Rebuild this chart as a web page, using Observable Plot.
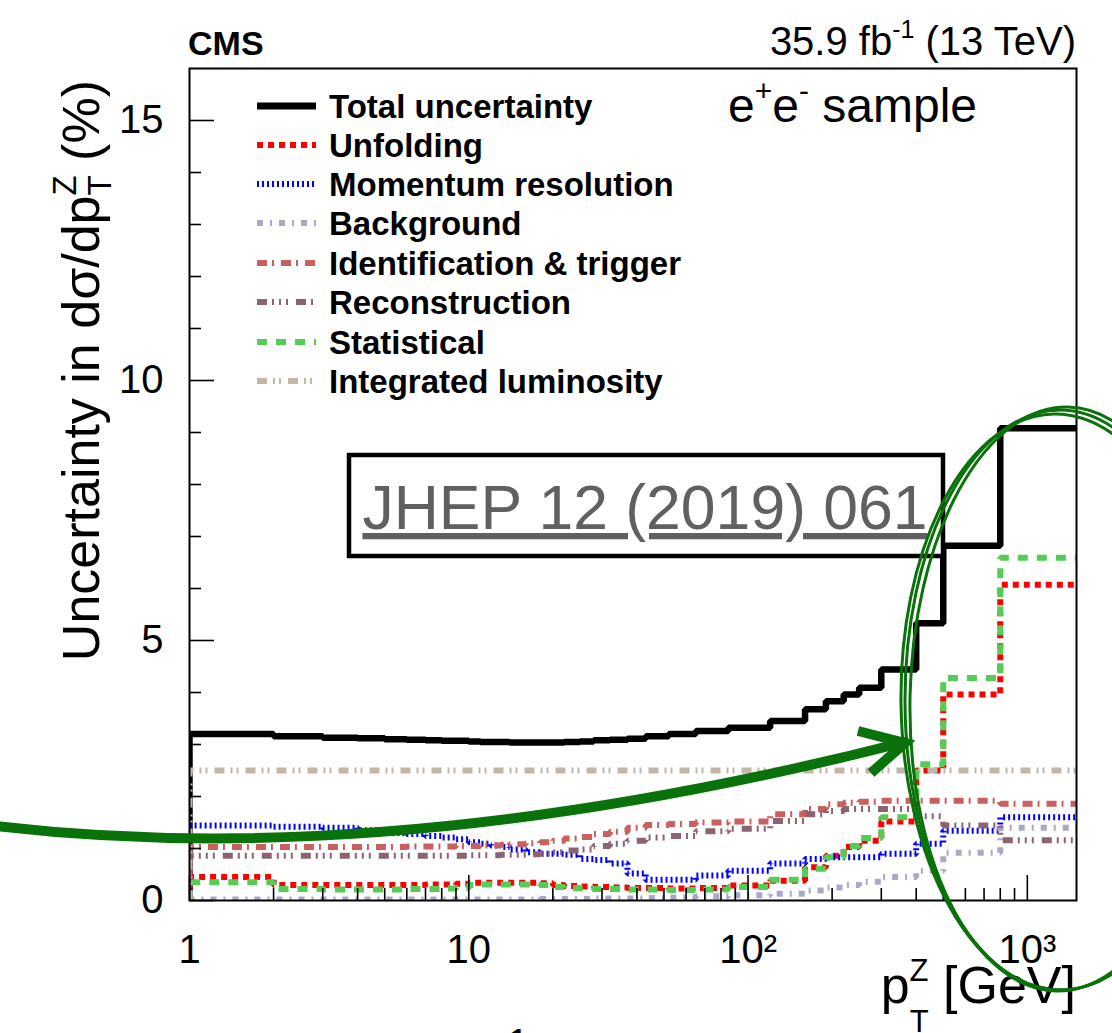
<!DOCTYPE html>
<html><head><meta charset="utf-8">
<script src="https://cdn.jsdelivr.net/npm/d3@7"></script>
<script src="https://cdn.jsdelivr.net/npm/@observablehq/plot@0.6"></script>
<style>
body{margin:0;background:#fff;}
#chart{position:relative;width:1112px;height:1033px;overflow:hidden;}
svg text{font-family:"Liberation Sans",Arial,Helvetica,sans-serif;}
</style></head><body><div id="chart"></div>
<script>
// ---- data (bin edges in GeV, values in %) ----
const edges = [1,2,3,4,5,6,7,8,9,10,11,12,13,14,16,18,20,22,25,28,32,37,43,52,65,85,120,160,190,220,250,300,400,500,800,1500];
const totalUnc = [3.20,3.16,3.13,3.12,3.10,3.09,3.08,3.07,3.07,3.06,3.05,3.05,3.05,3.04,3.04,3.04,3.04,3.05,3.06,3.08,3.09,3.11,3.16,3.20,3.26,3.32,3.45,3.68,3.83,3.96,4.09,4.44,5.33,6.82,9.08];
const unfolding = [0.45,0.30,0.30,0.30,0.30,0.30,0.31,0.31,0.32,0.34,0.34,0.34,0.34,0.34,0.34,0.33,0.30,0.28,0.27,0.26,0.25,0.24,0.24,0.23,0.24,0.29,0.38,0.64,0.86,1.03,1.15,1.52,2.50,3.96,6.07];
const momentumRes = [1.44,1.42,1.40,1.35,1.30,1.28,1.24,1.21,1.18,1.12,1.09,1.06,1.03,0.98,0.93,0.90,0.90,0.88,0.80,0.78,0.71,0.52,0.40,0.40,0.48,0.57,0.71,0.80,0.83,0.83,0.83,0.90,1.09,1.34,1.60];
const background = [0.02,0.02,0.02,0.02,0.02,0.02,0.02,0.02,0.02,0.02,0.02,0.02,0.02,0.02,0.02,0.03,0.03,0.03,0.03,0.04,0.04,0.04,0.05,0.06,0.08,0.10,0.13,0.19,0.25,0.30,0.36,0.45,0.57,0.92,1.40];
const idTrigger = [1.03,1.03,1.03,1.03,1.03,1.04,1.04,1.04,1.05,1.05,1.06,1.06,1.07,1.08,1.10,1.12,1.15,1.19,1.22,1.28,1.32,1.40,1.45,1.47,1.50,1.52,1.66,1.76,1.85,1.88,1.90,1.92,1.92,1.92,1.86];
const reconstruction = [0.86,0.86,0.86,0.86,0.86,0.86,0.86,0.86,0.86,0.87,0.87,0.87,0.88,0.88,0.89,0.90,0.93,0.96,0.98,1.05,1.09,1.15,1.21,1.24,1.33,1.38,1.53,1.66,1.72,1.76,1.76,1.76,1.62,1.44,1.16];
const statistical = [0.35,0.22,0.21,0.21,0.21,0.22,0.22,0.23,0.24,0.30,0.31,0.31,0.31,0.31,0.31,0.30,0.26,0.24,0.23,0.22,0.22,0.21,0.21,0.20,0.21,0.26,0.40,0.61,0.83,1.05,1.20,1.60,2.62,4.28,6.59];
const luminosity = [2.5,2.5,2.5,2.5,2.5,2.5,2.5,2.5,2.5,2.5,2.5,2.5,2.5,2.5,2.5,2.5,2.5,2.5,2.5,2.5,2.5,2.5,2.5,2.5,2.5,2.5,2.5,2.5,2.5,2.5,2.5,2.5,2.5,2.5,2.5];

const seriesNames = ["Total uncertainty","Unfolding","Momentum resolution","Background","Identification & trigger","Reconstruction","Statistical","Integrated luminosity"];
const seriesValues = [totalUnc, unfolding, momentumRes, background, idTrigger, reconstruction, statistical, luminosity];

const yMajor = [0,5,10,15];
const yMinor = [1,2,3,4,6,7,8,9,11,12,13,14];
const xMajor = [1,10,100,1000];
const xMinor = [2,3,4,5,6,7,8,9,20,30,40,50,60,70,80,90,200,300,400,500,600,700,800,900];
const xTickLabels = ["1","10","10\u00B2","10\u00B3"];

// ---- styles ----
const colors = ["#000000","#ff0000","#0000ff","#a9a9c6","#c95f5f","#8c6470","#55cc55","#c2b6aa"];
const dashes = [null,"6,5","2,3","6,7,2,7","10,5,2,7","10,5,2,5,2,5,2,8","10,9","10,6,2,4,2,7"];
const widths = [6.5,6,6,6,6,6,6,6];

const W = 1112, H = 1033, mL = 189, mR = 36, mT = 68, mB = 133;
const frameW = W - mL - mR, frameH = H - mT - mB;
const FONT = "Liberation Sans, Arial, Helvetica, sans-serif";

function steps(vals) {
  const pts = [{x: edges[0], y: 0}];
  vals.forEach((v, i) => pts.push({x: edges[i], y: v}));
  pts.push({x: edges[edges.length - 1], y: vals[vals.length - 1]});
  return pts;
}

const lineMarks = seriesValues.map((vals, i) => Plot.line(steps(vals), {
  x: "x", y: "y", curve: "step-after", stroke: colors[i], strokeWidth: widths[i],
  strokeDasharray: dashes[i] || undefined, strokeLinecap: "butt", strokeLinejoin: "miter", clip: true
}));

const svg = Plot.plot({
  width: W, height: H,
  marginLeft: mL, marginRight: mR, marginTop: mT, marginBottom: mB,
  x: {type: "log", domain: [1, 1500], axis: null},
  y: {domain: [0, 16], axis: null},
  style: {background: "white", fontFamily: FONT},
  marks: [
    ...lineMarks,
    Plot.tickY(yMajor, {y: d => d, insetRight: frameW - 25, stroke: "black", strokeWidth: 1.6}),
    Plot.tickY(yMinor, {y: d => d, insetRight: frameW - 12, stroke: "black", strokeWidth: 1.6}),
    Plot.tickX(xMajor, {x: d => d, insetTop: frameH - 25, stroke: "black", strokeWidth: 1.6}),
    Plot.tickX(xMinor, {x: d => d, insetTop: frameH - 12, stroke: "black", strokeWidth: 1.6}),
    Plot.frame({stroke: "black", strokeWidth: 2}),
    Plot.text(yMajor, {y: d => d, text: d => String(d), frameAnchor: "left", textAnchor: "end", dx: -26, fontSize: 40, fill: "black", fontFamily: FONT}),
    Plot.text(xMajor, {x: d => d, text: (d, i) => xTickLabels[i], frameAnchor: "bottom", lineAnchor: "middle", dy: 50, fontSize: 40, fill: "black", fontFamily: FONT})
  ]
});
document.getElementById("chart").appendChild(svg);

// ---- labels, legend, annotations ----
const s = d3.select(svg);

// y-axis title
const yt = s.append("text").attr("transform", "translate(99,80) rotate(-90)")
  .attr("text-anchor", "end").attr("font-size", 52).attr("fill", "black");
yt.append("tspan").text("Uncertainty in d\u03C3/dp");
yt.append("tspan").attr("font-size", 33).attr("dy", -23).text("Z");
yt.append("tspan").attr("font-size", 33).attr("dx", -20.2).attr("dy", 35).text("T");
yt.append("tspan").attr("dy", -12).text(" (%)");

// x-axis title
const xt = s.append("text").attr("x", 1076).attr("y", 1003)
  .attr("text-anchor", "end").attr("font-size", 52).attr("fill", "black");
xt.append("tspan").text("p");
xt.append("tspan").attr("font-size", 31).attr("dy", -22).text("Z");
xt.append("tspan").attr("font-size", 31).attr("dx", -18.9).attr("dy", 51).text("T");
xt.append("tspan").attr("dy", -29).text(" [GeV]");

// header
s.append("text").attr("x", 188).attr("y", 55).attr("text-anchor", "start").attr("font-size", 34).attr("font-weight", "bold").attr("fill", "black").text("CMS");
const lt = s.append("text").attr("x", 1076).attr("y", 55).attr("text-anchor", "end").attr("font-size", 40).attr("fill", "black");
lt.append("tspan").text("35.9 fb");
lt.append("tspan").attr("font-size", 25).attr("dy", -17).text("-1");
lt.append("tspan").attr("dy", 17).text(" (13 TeV)");

// sample label
const st = s.append("text").attr("x", 728).attr("y", 122).attr("text-anchor", "start").attr("font-size", 48).attr("fill", "black");
st.append("tspan").text("e");
st.append("tspan").attr("font-size", 30).attr("dy", -21).text("+");
st.append("tspan").attr("dy", 21).text("e");
st.append("tspan").attr("font-size", 30).attr("dy", -21).text("-");
st.append("tspan").attr("dy", 21).text(" sample");

// legend
const rowY = [106,145,184,223,263,302,342,381];
const lg = s.append("g");
seriesNames.forEach((name, i) => {
  lg.append("line").attr("x1", 257).attr("x2", 316).attr("y1", rowY[i]).attr("y2", rowY[i])
    .attr("stroke", colors[i]).attr("stroke-width", i === 0 ? 7 : 6)
    .attr("stroke-dasharray", dashes[i]);
  lg.append("text").attr("x", 329).attr("y", rowY[i]).attr("dy", "0.36em").attr("text-anchor", "start")
    .attr("font-size", 33).attr("font-weight", "bold").attr("fill", "black").text(name);
});

// JHEP reference box
s.append("rect").attr("x", 349).attr("y", 455).attr("width", 594).attr("height", 101)
  .attr("fill", "white").attr("stroke", "black").attr("stroke-width", 4.5);
s.append("text").attr("x", 645).attr("y", 529).attr("text-anchor", "middle")
  .attr("font-size", 62.5).attr("fill", "#606060").attr("text-decoration", "underline")
  .text("JHEP 12 (2019) 061");

// fragment of following text line at the bottom edge
s.append("text").attr("x", 518).attr("y", 1057).attr("text-anchor", "middle").attr("font-size", 40).attr("fill", "black").text("1");

// hand-drawn green arrow
const G = "#0a720a";
s.append("path").attr("d", "M-5,826 C300,862 620,815 905,742")
  .attr("fill", "none").attr("stroke", G).attr("stroke-width", 10).attr("stroke-linecap", "round");
s.append("path").attr("d", "M858,731 L905,743 L871,773")
  .attr("fill", "none").attr("stroke", G).attr("stroke-width", 10).attr("stroke-linecap", "butt").attr("stroke-linejoin", "miter");

// hand-drawn green ellipse (sketchy strokes)
[[1060,700,155,290,0],[1062,699,152,292,1.2],[1058,702,157,288,-0.8]].forEach(([cx,cy,rx,ry,rot]) => {
  s.append("ellipse").attr("cx", cx).attr("cy", cy).attr("rx", rx).attr("ry", ry)
    .attr("transform", `rotate(${rot},${cx},${cy})`)
    .attr("fill", "none").attr("stroke", G).attr("stroke-width", 3);
});
</script></body></html>
